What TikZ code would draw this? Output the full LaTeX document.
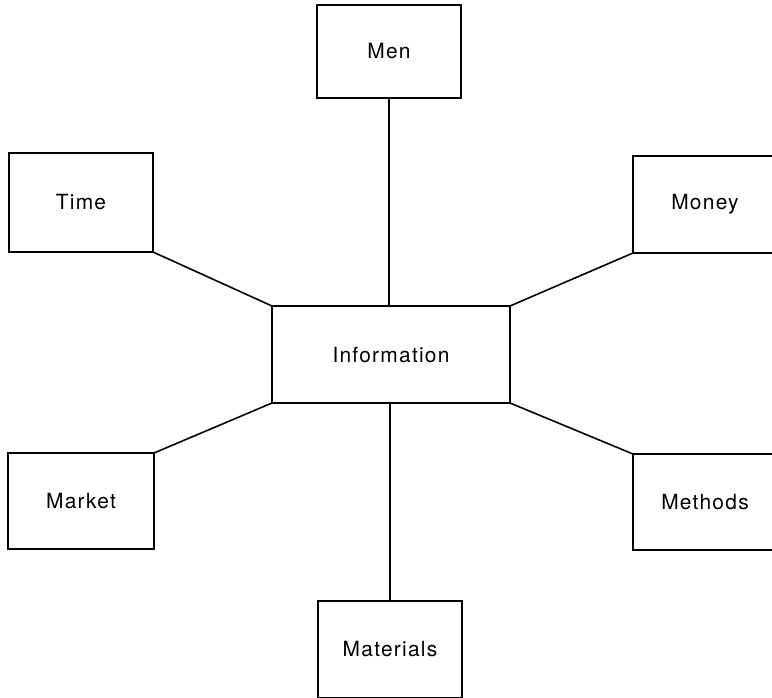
\documentclass[tikz,border=0pt]{standalone}
\usepackage{fontspec}
\setmainfont{TeX Gyre Heros}[LetterSpace=6]
\begin{document}
\begin{tikzpicture}[x=1bp,y=-1bp,
  box/.style={draw, line width=1.6bp, rectangle, inner sep=0pt, outer sep=0pt,
    font=\fontsize{21}{24}\selectfont, minimum width=#1},
  box/.default=144bp,
  link/.style={line width=1.6bp, line join=round}]
  \useasboundingbox (0,0) rectangle (772,698);
  \clip (0,0) rectangle (772,698);

  % central node
  \node[box=238bp, minimum height=97bp] (info) at (391,354.5) {Information};

  % surrounding nodes
  \node[box, minimum height=93bp] (men) at (389,51.5) {Men};
  \node[box, minimum height=99bp] (time) at (81,202.5) {Time};
  \node[box, minimum height=97bp] (money) at (705,204.5) {Money};
  \node[box=146bp, minimum height=96bp] (market) at (81,501) {Market};
  \node[box, minimum height=96bp] (methods) at (705,502) {Methods};
  \node[box, minimum height=97bp] (materials) at (390,649.5) {Materials};

  % connectors
  \draw[link] (men.south) -- (men.south |- info.north);
  \draw[link] (materials.north) -- (materials.north |- info.south);
  \draw[link] (time.south east) -- (info.north west);
  \draw[link] (money.south west) -- (info.north east);
  \draw[link] (market.north east) -- (info.south west);
  \draw[link] (methods.north west) -- (info.south east);
\end{tikzpicture}
\end{document}
